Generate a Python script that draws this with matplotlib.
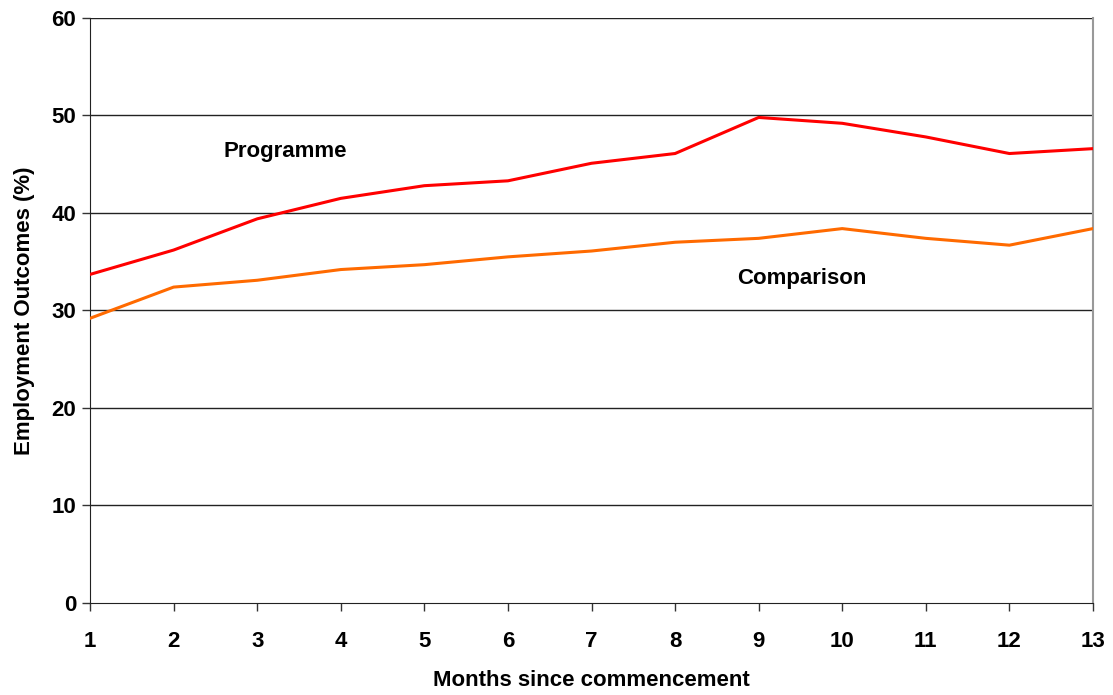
import matplotlib
matplotlib.use("Agg")
import matplotlib.pyplot as plt

months = list(range(1, 14))
programme = [33.7, 36.2, 39.4, 41.5, 42.8, 43.3, 45.1, 46.1, 49.8, 49.2, 47.8, 46.1, 46.6]
comparison = [29.2, 32.4, 33.1, 34.2, 34.7, 35.5, 36.1, 37.0, 37.4, 38.4, 37.4, 36.7, 38.4]
yticks = [0, 10, 20, 30, 40, 50, 60]

plt.rcParams['font.family'] = ['Liberation Sans', 'DejaVu Sans']
plt.rcParams['font.weight'] = 'bold'

fig = plt.figure(figsize=(11.13, 6.95), dpi=100)
ax = fig.add_axes([0.0809, 0.1324, 0.9011, 0.8417])

for y in yticks[1:]:
    ax.axhline(y, color='#222222', lw=1.0, zorder=1)

ax.plot(months, programme, color='#ff0000', lw=2.2, zorder=3)
ax.plot(months, comparison, color='#ff6a00', lw=2.2, zorder=3)

fs = 16
ax.text(3.33, 46.3, 'Programme', ha='center', va='center', fontsize=fs, fontweight='bold')
ax.text(9.52, 33.3, 'Comparison', ha='center', va='center', fontsize=fs, fontweight='bold')

ax.set_xlim(1, 13)
ax.set_ylim(0, 60)
ax.set_xticks(months)
ax.set_yticks(yticks)
ax.tick_params(axis='both', labelsize=fs, direction='out', length=6, width=1, color='#333333')
ax.tick_params(axis='x', pad=14)
ax.tick_params(axis='y', pad=4)
for lab in ax.get_xticklabels() + ax.get_yticklabels():
    lab.set_fontweight('bold')

ax.spines['top'].set_visible(False)
ax.spines['left'].set_color('#222222')
ax.spines['bottom'].set_color('#222222')
ax.spines['right'].set_color('#999999')
ax.spines['right'].set_linewidth(1.5)

ax.set_xlabel('Months since commencement', fontsize=fs, fontweight='bold', labelpad=13)
ax.set_ylabel('Employment Outcomes (%)', fontsize=fs, fontweight='bold', labelpad=12)

fig.savefig('out.png', dpi=100)
